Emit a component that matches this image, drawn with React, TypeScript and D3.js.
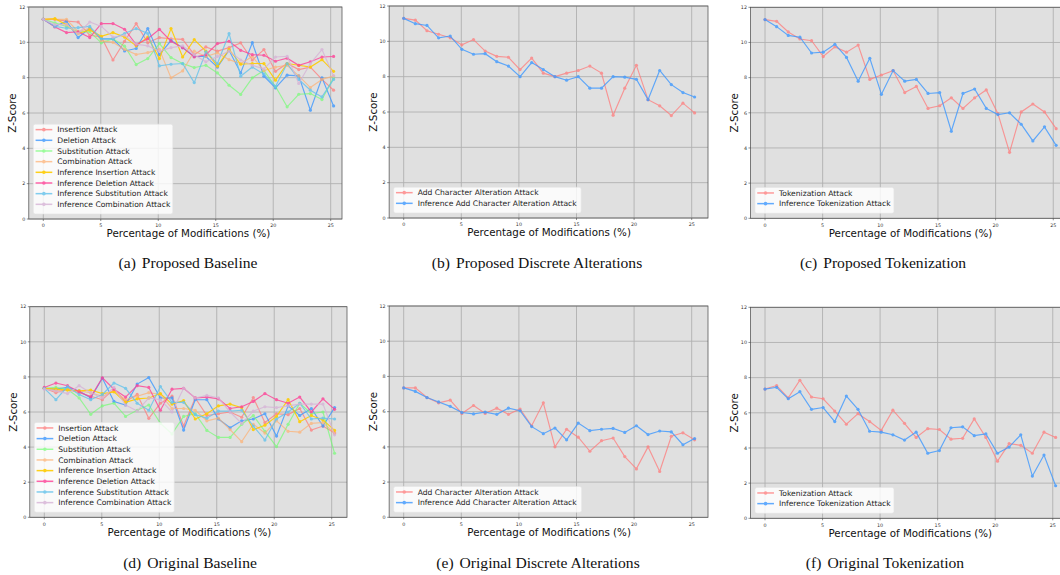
import React from 'react';
import * as d3 from 'd3';

// ---------- data ----------
const pct = [0, 1.01, 2.02, 3.03, 4.04, 5.05, 6.06, 7.07, 8.08, 9.09, 10.1, 11.11, 12.12, 13.13, 14.14, 15.15, 16.16, 17.17, 18.18, 19.19, 20.2, 21.21, 22.22, 23.23, 24.24, 25.25];
const xTicks = [0, 5, 10, 15, 20, 25];
const yTicks = [0, 2, 4, 6, 8, 10, 12];

const baselineNames = [
  'Insertion Attack', 'Deletion Attack', 'Substitution Attack', 'Combination Attack',
  'Inference Insertion Attack', 'Inference Deletion Attack', 'Inference Substitution Attack', 'Inference Combination Attack',
];
const baselineColors = ['#ff7b7b', '#3d98ff', '#6cff6c', '#ffb070', '#ffcc00', '#ff3f96', '#63c3ec', '#d7b3d7'];
const baselineAlpha = [0.75, 0.8, 0.65, 0.7, 0.9, 0.8, 0.8, 0.8];

// (a) Proposed baseline
const propInsertion = [11.3, 11.3, 11.2, 11.15, 10.4, 10.3, 9.0, 10.06, 11.06, 9.97, 10.27, 10.2, 10.17, 9.3, 9.74, 9.5, 9.7, 9.97, 9.0, 9.59, 8.36, 8.8, 8.46, 8.6, 7.9, 7.29];
const propDeletion = [11.3, 10.9, 11.2, 10.27, 10.8, 10.2, 10.2, 9.51, 9.65, 10.78, 9.3, 10.1, 9.7, 9.2, 9.2, 8.6, 9.55, 8.27, 9.98, 8.08, 7.42, 8.14, 8.1, 6.16, 7.99, 6.4];
const propSubstitution = [11.3, 11.1, 10.9, 10.6, 10.6, 9.97, 10.2, 9.78, 8.74, 9.08, 9.93, 9.14, 8.8, 8.57, 8.7, 8.27, 7.57, 7.05, 7.99, 8.4, 7.5, 6.35, 7.06, 7.1, 6.76, 8.0];
const propCombination = [11.3, 11.3, 11.3, 10.6, 10.8, 10.1, 10.0, 9.6, 9.31, 9.42, 9.6, 7.99, 8.38, 9.5, 9.2, 9.4, 9.02, 8.8, 9.2, 8.4, 8.6, 8.7, 8.1, 7.44, 7.9, 8.1];
const propInfInsertion = [11.3, 11.34, 11.0, 10.49, 10.7, 10.34, 10.55, 10.3, 9.8, 10.3, 9.08, 10.78, 9.17, 10.15, 9.5, 8.65, 9.6, 8.76, 8.8, 8.8, 7.86, 8.8, 8.7, 8.6, 9.02, 8.36];
const propInfDeletion = [11.3, 10.87, 10.55, 10.6, 10.27, 11.06, 11.06, 10.74, 9.87, 10.2, 10.74, 10.06, 9.7, 9.17, 9.3, 9.93, 10.06, 9.55, 9.3, 9.27, 8.93, 9.1, 8.7, 8.9, 9.17, 9.2];
const propInfSubstitution = [11.3, 10.9, 10.8, 10.83, 10.9, 10.2, 10.2, 10.5, 10.78, 10.5, 8.67, 8.76, 8.8, 7.72, 9.46, 8.8, 10.49, 8.08, 8.6, 8.2, 7.5, 8.8, 7.9, 7.29, 6.91, 7.9];
const propInfCombination = [11.3, 11.0, 11.0, 10.5, 11.15, 10.9, 10.3, 10.4, 9.9, 9.8, 9.5, 9.7, 9.8, 9.3, 8.9, 9.2, 9.5, 9.0, 8.7, 8.5, 9.17, 9.21, 7.67, 8.8, 9.59, 8.1];

// (d) Original baseline
const origInsertion = [7.35, 7.1, 7.3, 7.1, 6.9, 6.7, 7.3, 6.6, 7.0, 5.64, 6.5, 6.9, 5.2, 6.8, 5.8, 5.9, 6.0, 5.7, 6.82, 5.4, 5.9, 5.85, 6.2, 4.97, 5.2, 4.8];
const origDeletion = [7.35, 7.3, 7.4, 7.2, 6.8, 7.92, 6.6, 6.4, 7.59, 7.96, 6.8, 6.8, 4.97, 6.7, 6.7, 5.6, 5.1, 5.5, 5.6, 5.9, 4.63, 6.35, 5.8, 6.2, 5.2, 6.25];
const origSubstitution = [7.35, 7.4, 7.3, 6.8, 5.87, 6.35, 6.5, 5.75, 6.1, 6.4, 5.35, 4.75, 5.75, 5.9, 4.95, 4.55, 4.55, 5.3, 5.8, 4.9, 4.03, 5.3, 6.5, 5.9, 6.0, 3.65];
const origCombination = [7.35, 7.2, 7.3, 7.2, 7.1, 6.9, 7.2, 6.7, 6.9, 7.1, 7.0, 6.2, 6.2, 6.1, 5.5, 5.65, 5.0, 4.31, 5.3, 4.8, 5.5, 4.9, 4.85, 5.35, 5.4, 4.8];
const origInfInsertion = [7.35, 7.3, 7.25, 7.2, 7.25, 7.05, 7.15, 6.55, 6.75, 6.8, 7.05, 6.45, 6.65, 5.6, 5.9, 6.35, 6.45, 6.25, 5.0, 5.25, 5.75, 6.7, 5.45, 5.8, 5.55, 4.95];
const origInfDeletion = [7.4, 7.65, 7.5, 7.15, 6.85, 7.95, 7.3, 6.85, 7.5, 7.4, 6.1, 7.3, 7.35, 6.8, 6.85, 6.75, 6.2, 6.3, 6.6, 7.05, 6.7, 6.5, 6.85, 6.0, 6.75, 6.15];
const origInfSubstitution = [7.35, 6.7, 7.45, 7.0, 6.7, 7.0, 7.65, 7.35, 6.5, 6.1, 7.45, 6.55, 6.55, 5.85, 5.65, 6.05, 6.05, 6.1, 5.2, 4.4, 5.6, 6.0, 6.5, 5.6, 5.65, 5.6];
const origInfCombination = [7.3, 7.2, 7.05, 7.5, 7.1, 6.8, 7.4, 6.4, 6.05, 6.8, 6.7, 6.0, 7.35, 6.8, 6.95, 6.8, 6.0, 5.35, 6.05, 6.3, 6.25, 6.35, 6.45, 6.45, 6.45, 4.7];

// (b) / (e) discrete alterations
const altNames = ['Add Character Alteration Attack', 'Inference Add Character Alteration Attack'];
const propAddChar = [11.3, 11.2, 10.6, 10.4, 10.2, 9.8, 10.1, 9.45, 9.15, 9.1, 8.4, 9.05, 8.2, 8.0, 8.2, 8.35, 8.6, 8.2, 5.82, 7.35, 8.64, 6.7, 6.35, 5.8, 6.5, 5.95];
const propInfAddChar = [11.3, 11.0, 10.9, 10.2, 10.3, 9.55, 9.27, 9.3, 8.85, 8.6, 8.0, 8.8, 8.4, 8.0, 7.8, 8.0, 7.35, 7.35, 8.0, 7.97, 7.85, 6.7, 8.35, 7.55, 7.1, 6.85];
const origAddChar = [7.35, 7.35, 6.8, 6.5, 6.65, 5.9, 6.35, 5.9, 6.2, 5.85, 6.15, 5.2, 6.5, 4.0, 5.0, 4.55, 3.75, 4.35, 4.5, 3.45, 2.75, 4.0, 2.6, 4.6, 4.8, 4.4];
const origInfAddChar = [7.35, 7.15, 6.8, 6.55, 6.3, 5.95, 5.87, 5.97, 5.85, 6.2, 6.05, 5.15, 4.75, 5.07, 4.4, 5.35, 4.92, 5.0, 5.05, 4.82, 5.2, 4.7, 4.9, 4.85, 4.12, 4.47];

// (c) / (f) tokenization
const tokNames = ['Tokenization Attack', 'Inference Tokenization Attack'];
const propTok = [11.3, 11.2, 10.6, 10.2, 10.1, 9.2, 9.75, 9.45, 9.85, 7.9, 8.15, 8.4, 7.15, 7.5, 6.25, 6.4, 6.85, 6.25, 6.85, 7.3, 5.95, 3.75, 6.05, 6.5, 6.05, 5.1];
const propInfTok = [11.3, 10.9, 10.4, 10.3, 9.4, 9.45, 9.9, 9.15, 7.8, 9.1, 7.05, 8.4, 7.8, 7.9, 7.1, 7.15, 4.95, 7.1, 7.35, 6.25, 5.9, 6.0, 5.35, 4.4, 5.2, 4.15];
const origTok = [7.35, 7.55, 6.85, 7.85, 6.9, 6.8, 6.1, 5.35, 5.95, 5.5, 5.0, 6.15, 5.4, 4.6, 5.1, 5.05, 4.5, 4.55, 5.65, 4.6, 3.25, 4.25, 4.15, 3.7, 4.9, 4.6];
const origInfTok = [7.35, 7.45, 6.8, 7.2, 6.2, 6.3, 5.5, 6.95, 6.2, 4.95, 4.9, 4.75, 4.45, 4.9, 3.7, 3.85, 5.15, 5.2, 4.7, 4.8, 3.7, 4.05, 4.75, 2.4, 3.6, 1.85];

const pairColors = ['#ff7b7b', '#3d98ff'];
const pairAlpha = [0.75, 0.8];

const captions = [
  ['(a)', 'Proposed Baseline'], ['(b)', 'Proposed Discrete Alterations'], ['(c)', 'Proposed Tokenization'],
  ['(d)', 'Original Baseline'], ['(e)', 'Original Discrete Alterations'], ['(f)', 'Original Tokenization'],
];

// ---------- layout ----------
type Series = { name: string; values: number[]; color: string; alpha: number };
type PanelCfg = {
  x0: number; unit: number; top: number; bottom: number; clipRight: number;
  legendW: number; series: Series[]; capX: number; capY: number; caption: string[];
};

const mk = (names: string[], vals: number[][], colors: string[], alpha: number[]): Series[] =>
  names.map((n, i) => ({ name: n, values: vals[i], color: colors[i], alpha: alpha[i] }));

const panels: PanelCfg[] = [
  { x0: 43.3, unit: 11.496, top: 7, bottom: 219, clipRight: 342, legendW: 139.5, capX: 188, capY: 268,
    caption: captions[0],
    series: mk(baselineNames, [propInsertion, propDeletion, propSubstitution, propCombination, propInfInsertion, propInfDeletion, propInfSubstitution, propInfCombination], baselineColors, baselineAlpha) },
  { x0: 403.7, unit: 11.52, top: 6, bottom: 218, clipRight: 708, legendW: 187.5, capX: 537, capY: 268,
    caption: captions[1], series: mk(altNames, [propAddChar, propInfAddChar], pairColors, pairAlpha) },
  { x0: 765, unit: 11.53, top: 7.3, bottom: 218.3, clipRight: 1070, legendW: 139, capX: 883, capY: 268,
    caption: captions[2], series: mk(tokNames, [propTok, propInfTok], pairColors, pairAlpha) },
  { x0: 44.3, unit: 11.496, top: 306.7, bottom: 517.3, clipRight: 347, legendW: 140, capX: 190, capY: 568,
    caption: captions[3],
    series: mk(baselineNames, [origInsertion, origDeletion, origSubstitution, origCombination, origInfInsertion, origInfDeletion, origInfSubstitution, origInfCombination], baselineColors, baselineAlpha) },
  { x0: 403.7, unit: 11.52, top: 306, bottom: 517.3, clipRight: 708, legendW: 188, capX: 538, capY: 568,
    caption: captions[4], series: mk(altNames, [origAddChar, origInfAddChar], pairColors, pairAlpha) },
  { x0: 765, unit: 11.51, top: 307.3, bottom: 518.3, clipRight: 1070, legendW: 139, capX: 885, capY: 568,
    caption: captions[5], series: mk(tokNames, [origTok, origInfTok], pairColors, pairAlpha) },
];

const FONT = 'DejaVu Sans, sans-serif';

function Panel({ cfg, idx }: { cfg: PanelCfg; idx: number }) {
  const xmin = -1.2625, xmax = 26.5125;
  const left = cfg.x0 + xmin * cfg.unit;
  const fullRight = cfg.x0 + xmax * cfg.unit;
  const right = Math.min(fullRight, cfg.clipRight);
  const x = d3.scaleLinear().domain([xmin, xmax]).range([left, fullRight]);
  const y = d3.scaleLinear().domain([0, 12]).range([cfg.bottom, cfg.top]);
  const line = d3.line<number>().x((_, i) => x(pct[i])).y((d) => y(d));
  const clipId = `clip${idx}`;
  const n = cfg.series.length;
  const rowH = 10.67;
  const legH = n * rowH + 4.5;
  const legX = left + 4.5;
  const legY = cfg.bottom - 5 - legH;
  const midY = (cfg.top + cfg.bottom) / 2;
  return (
    <g>
      <defs>
        <clipPath id={clipId}>
          <rect x={left} y={cfg.top} width={right - left} height={cfg.bottom - cfg.top} />
        </clipPath>
      </defs>
      <rect x={left} y={cfg.top} width={right - left} height={cfg.bottom - cfg.top} fill="#e0e0e0" />
      {xTicks.map((t) => (
        <line key={'gx' + t} x1={x(t)} x2={x(t)} y1={cfg.top} y2={cfg.bottom} stroke="#b0b0b0" strokeWidth={0.9} />
      ))}
      {yTicks.map((t) => (
        <line key={'gy' + t} x1={left} x2={right} y1={y(t)} y2={y(t)} stroke="#b0b0b0" strokeWidth={0.9} />
      ))}
      <g clipPath={`url(#${clipId})`}>
        {cfg.series.map((s) => (
          <g key={s.name} opacity={s.alpha}>
            <path d={line(s.values) || ''} fill="none" stroke={s.color} strokeWidth={1.15} />
            {s.values.map((v, i) => (
              <circle key={i} cx={x(pct[i])} cy={y(v)} r={1.6} fill={s.color} />
            ))}
          </g>
        ))}
      </g>
      <rect x={left} y={cfg.top} width={right - left} height={cfg.bottom - cfg.top} fill="none" stroke="#5a5a5a" strokeWidth={0.8} />
      {xTicks.map((t) => (
        <g key={'tx' + t}>
          <line x1={x(t)} x2={x(t)} y1={cfg.bottom} y2={cfg.bottom + 2} stroke="#444" strokeWidth={0.6} />
          <text x={x(t)} y={cfg.bottom + 8.3} fontSize={4.8} fontFamily={FONT} fill="#333" textAnchor="middle">{t}</text>
        </g>
      ))}
      {yTicks.map((t) => (
        <g key={'ty' + t}>
          <line x1={left - 2} x2={left} y1={y(t)} y2={y(t)} stroke="#444" strokeWidth={0.6} />
          <text x={left - 3.5} y={y(t) + 1.7} fontSize={4.8} fontFamily={FONT} fill="#333" textAnchor="end">{t}</text>
        </g>
      ))}
      <text x={(left + fullRight) / 2} y={cfg.bottom + 18.3} fontSize={10.3} fontFamily={FONT} fill="#111" textAnchor="middle">
        Percentage of Modifications (%)
      </text>
      <text transform={`translate(${left - 12.5},${midY}) rotate(-90)`} fontSize={10.3} fontFamily={FONT} fill="#111" textAnchor="middle">
        Z-Score
      </text>
      <g>
        <rect x={legX} y={legY} width={cfg.legendW} height={legH} rx={2} fill="#ffffff" fillOpacity={0.82} stroke="#e4e4e4" strokeWidth={0.6} />
        {cfg.series.map((s, i) => {
          const ry = legY + 5.5 + i * rowH;
          return (
            <g key={'lg' + s.name}>
              <g opacity={s.alpha}>
                <line x1={legX + 2.3} x2={legX + 19} y1={ry} y2={ry} stroke={s.color} strokeWidth={1.5} />
                <circle cx={legX + 10.6} cy={ry} r={1.8} fill={s.color} />
              </g>
              <text x={legX + 24} y={ry + 2.7} fontSize={7.6} fontFamily={FONT} fill="#222">{s.name}</text>
            </g>
          );
        })}
      </g>
      <text x={cfg.capX} y={cfg.capY} fontSize={15.6} fontFamily="Liberation Serif, serif" fill="#111" textAnchor="middle">
        <tspan>{cfg.caption[0]}</tspan>
        <tspan dx={6}>{cfg.caption[1]}</tspan>
      </text>
    </g>
  );
}

export default function App() {
  return (
    <div style={{ position: 'absolute', left: 0, top: 0 }}>
      <svg width={1060} height={575} viewBox="0 0 1060 575" style={{ display: 'block', background: '#fff' }}>
        {panels.map((p, i) => (
          <Panel key={i} cfg={p} idx={i} />
        ))}
      </svg>
    </div>
  );
}
